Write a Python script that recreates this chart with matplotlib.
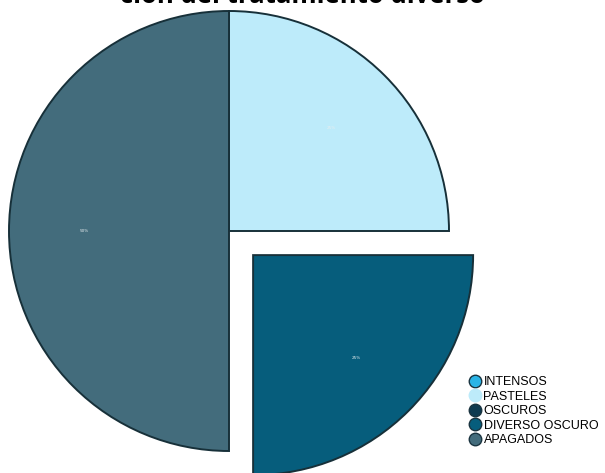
import matplotlib
matplotlib.use('Agg')
import matplotlib.pyplot as plt
from matplotlib.lines import Line2D

categories = ['INTENSOS', 'PASTELES', 'OSCUROS', 'DIVERSO OSCURO', 'APAGADOS']
values = [0, 25, 0, 25, 50]
colors = ['#2ab4e6', '#bdebfa', '#0e3a50', '#065d7c', '#436c7c']
explode = [0, 0, 0, 0.155, 0]  # fraction of the radius
title = 'ción del tratamiento diverso'

fig = plt.figure(figsize=(6.05, 4.73), dpi=100)
ax = fig.add_axes([0, 0, 1, 1])

# pie in pixel units so the layout follows the reference
radius = 220
shown = [(v, c, e) for v, c, e in zip(values, colors, explode) if v > 0]
wedges, texts, autotexts = ax.pie(
    [s[0] for s in shown], colors=[s[1] for s in shown],
    explode=[s[2] * radius for s in shown],
    center=(229, 473 - 231), radius=radius, startangle=90, counterclock=False,
    autopct='%d%%', pctdistance=0.66, frame=True,
    wedgeprops=dict(edgecolor='#173039', linewidth=1.4),
    textprops=dict(color='#e8eef0', fontsize=3))
ax.set_xlim(0, 605)
ax.set_ylim(0, 473)
ax.set_aspect('equal')
ax.axis('off')

# the reference shows only the lower part of this title line
fig.text(0.5, 1 - 3 / 473, title, ha='center', va='baseline',
         fontsize=18.5, fontweight='bold', family=['Open Sans', 'DejaVu Sans'])

handles = [Line2D([], [], marker='o', linestyle='', markersize=9,
                  markerfacecolor=c, markeredgecolor='#1a3440' if i != 1 else c,
                  markeredgewidth=1.0)
           for i, c in enumerate(colors)]
fig.legend(handles, categories, loc='upper left', bbox_to_anchor=(471 / 605, 1 - 376 / 473),
           frameon=False, handlelength=0.6, handletextpad=0.4, labelspacing=0.2,
           borderaxespad=0, borderpad=0,
           prop=dict(family='Liberation Sans', size=9))

plt.savefig('out.png', dpi=100)
plt.close()
